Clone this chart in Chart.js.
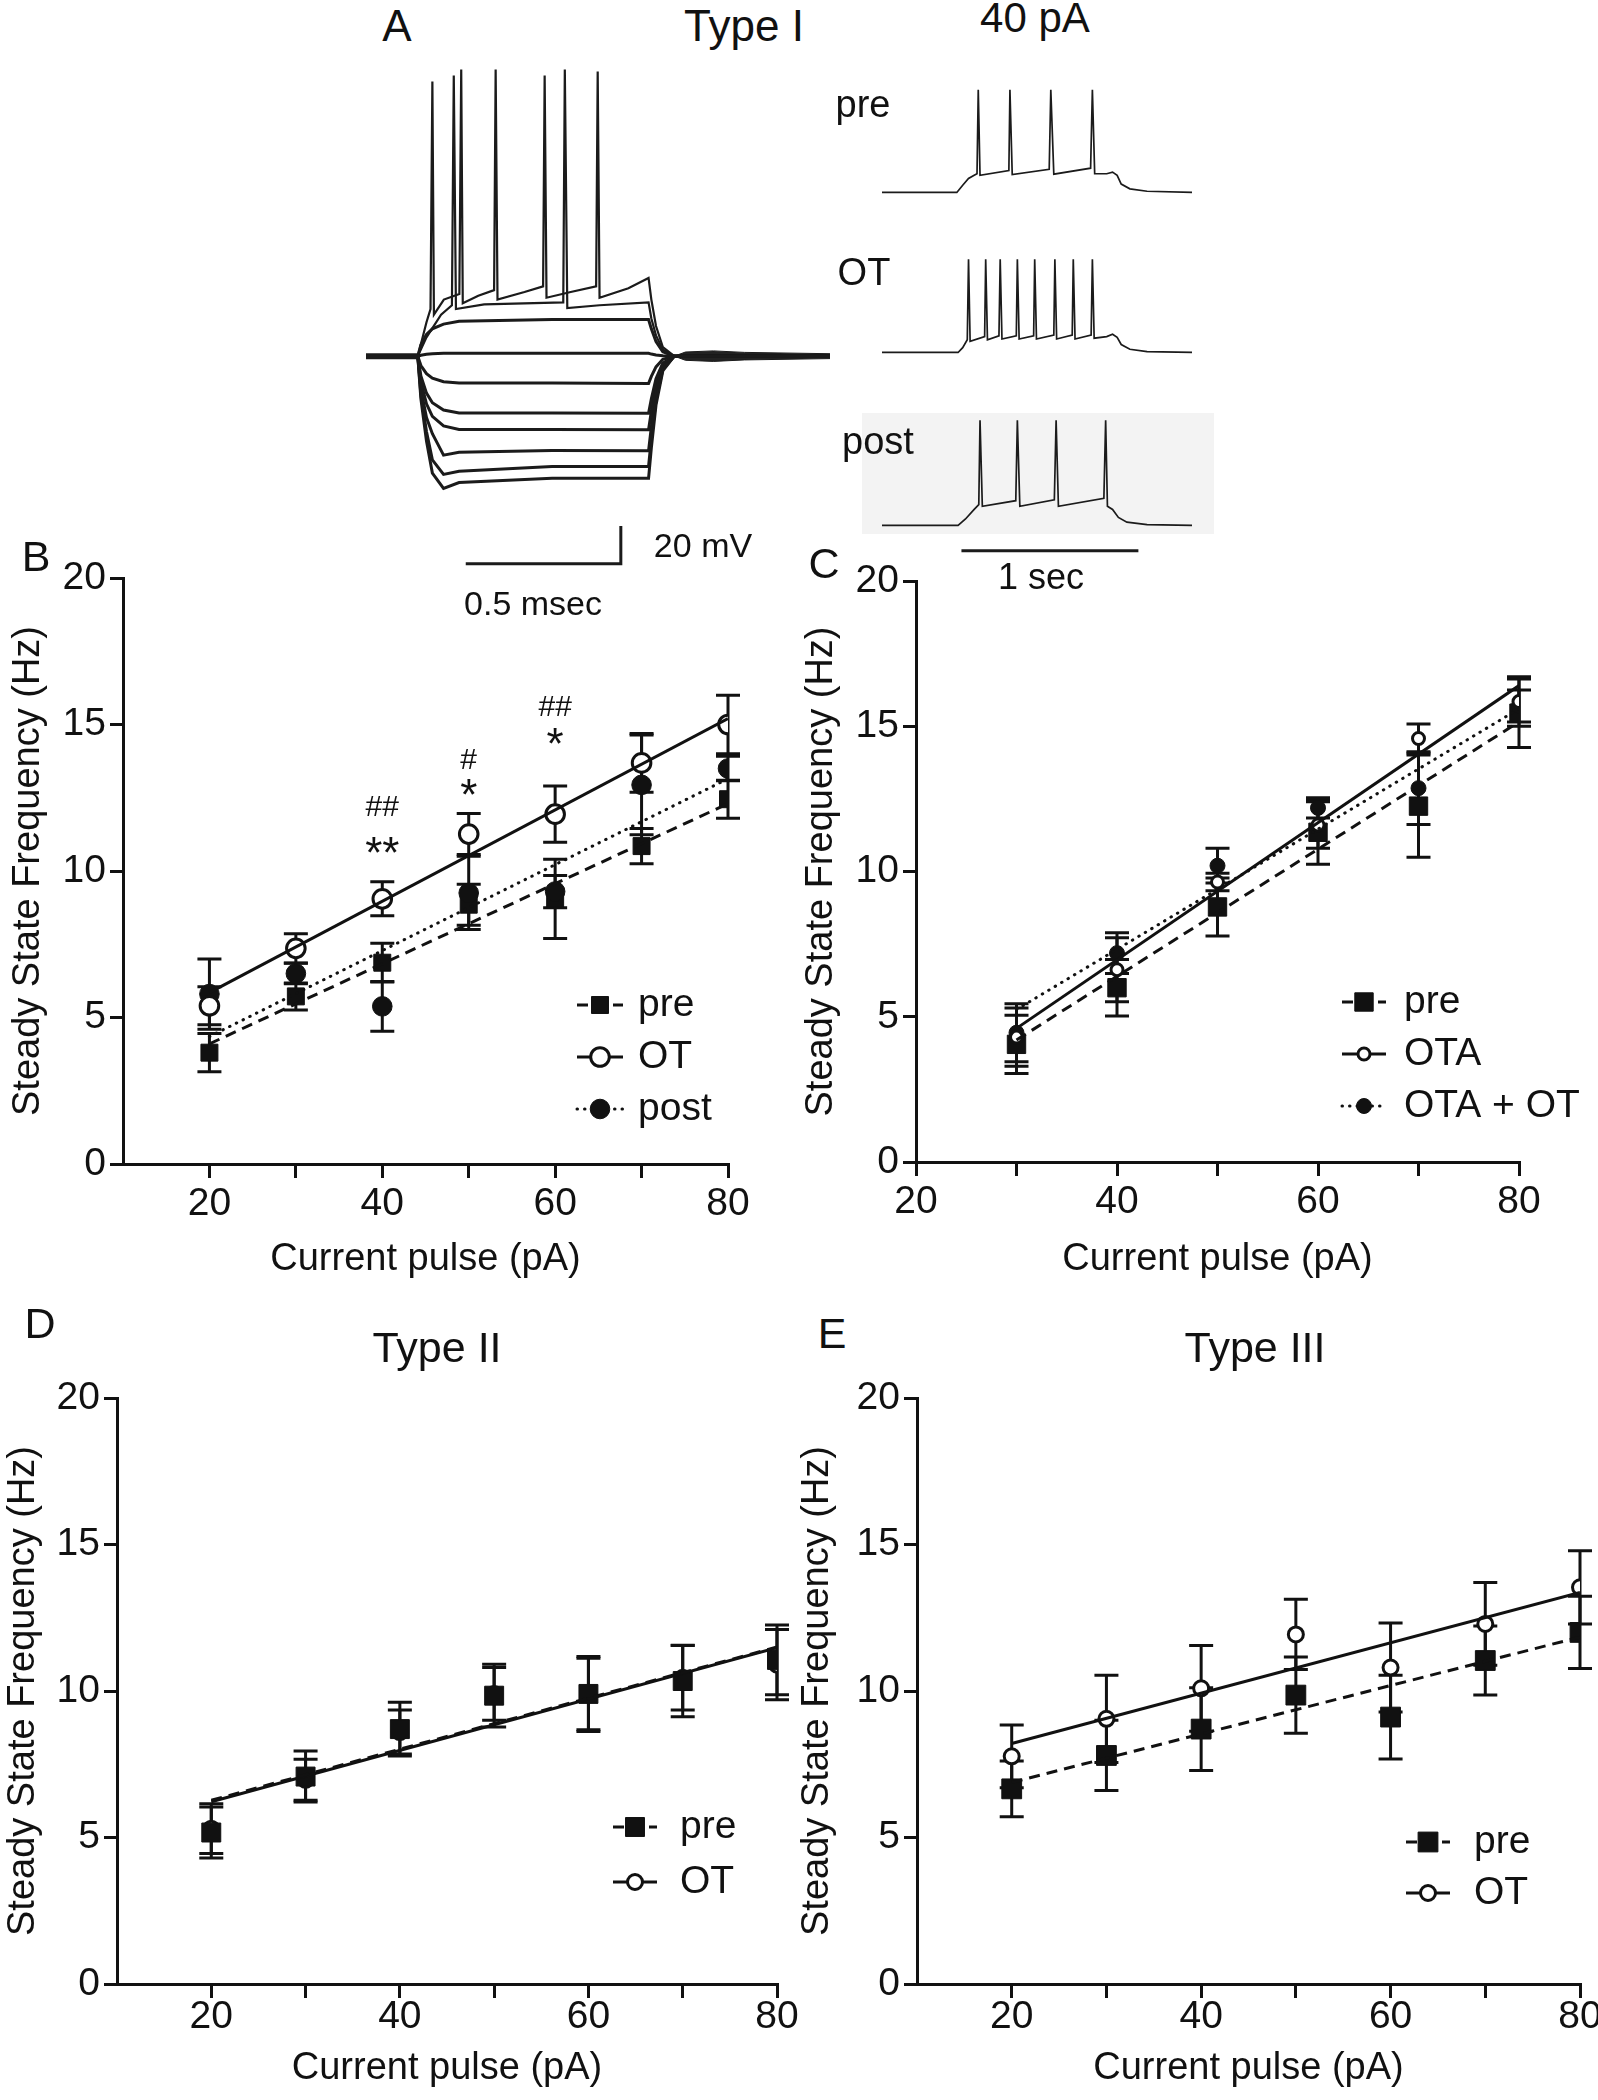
<!DOCTYPE html>
<html>
<head>
<meta charset="utf-8">
<title>Steady state frequency vs current pulse</title>
<script src="https://cdn.jsdelivr.net/npm/chart.js@4.4.0/dist/chart.umd.min.js"></script>
<style>
  html, body { margin: 0; padding: 0; background: #fff; overflow: hidden; }
  body { position: relative; width: 1598px; height: 2100px; font-family: "Liberation Sans", Arial, sans-serif; color: #111; }
  canvas { position: absolute; }
  .txt { position: absolute; transform: translate(-50%, -50%); line-height: 1; white-space: nowrap; }
  .shade { position: absolute; background: #f3f3f3; }
</style>
</head>
<body>
<div class="shade" style="left:862px;top:413px;width:352px;height:121px"></div>

<canvas id="family"></canvas>
<canvas id="tracePre"></canvas>
<canvas id="traceOt"></canvas>
<canvas id="tracePost"></canvas>
<canvas id="panelD"></canvas>
<canvas id="panelE"></canvas>
<canvas id="panelB"></canvas>
<canvas id="panelC"></canvas>

<div class="txt" style="left:397px;top:26px;font-size:44px">A</div>
<div class="txt" style="left:744px;top:26px;font-size:44px">Type I</div>
<div class="txt" style="left:1035px;top:18px;font-size:42px">40 pA</div>
<div class="txt" style="left:863px;top:104px;font-size:38px">pre</div>
<div class="txt" style="left:864px;top:272px;font-size:38px">OT</div>
<div class="txt" style="left:878px;top:441px;font-size:38px">post</div>
<div class="txt" style="left:703px;top:545px;font-size:34px">20 mV</div>
<div class="txt" style="left:533px;top:603px;font-size:34px">0.5 msec</div>
<div class="txt" style="left:1041px;top:577px;font-size:36px">1 sec</div>
<div class="txt" style="left:36px;top:556px;font-size:43px">B</div>
<div class="txt" style="left:824px;top:563px;font-size:43px">C</div>
<div class="txt" style="left:40px;top:1323px;font-size:43px">D</div>
<div class="txt" style="left:437px;top:1347px;font-size:43px">Type II</div>
<div class="txt" style="left:832px;top:1333px;font-size:43px">E</div>
<div class="txt" style="left:1255px;top:1347px;font-size:43px">Type III</div>

<script>
// ---------- shared ticks ----------
const freqTicks = [0, 5, 10, 15, 20];
const pulseTicksWide = [20, 30, 40, 50, 60, 70, 80];

// ---------- B: Type I, pre / OT / post ----------
const currentB = [20, 30, 40, 50, 60, 70, 80];
const preB = [3.8, 5.72, 6.87, 8.85, 9.05, 10.85, 12.45];
const preB_err = [0.65, 0.46, 0.66, 0.7, 1.35, 0.6, 0.65];
const otB = [5.4, 7.36, 9.05, 11.26, 11.94, 13.69, 15.0];
const otB_err = [0.65, 0.5, 0.58, 0.7, 0.96, 1.0, 1.0];
const postB = [5.8, 6.5, 5.38, 9.25, 9.3, 12.94, 13.5];
const postB_err = [1.2, 0.35, 0.85, 1.25, 0.55, 1.7, 0.42];
const fitSpanB = [20, 80];
const fitPreB = [4.1, 12.3];
const fitOtB = [5.85, 15.2];
const fitPostB = [4.35, 13.15];
const sigX = [40, 50, 60];
const sigStar = ['**', '*', '*'];
const sigStarY = [10.9, 12.85, 14.6];
const sigHash = ['##', '#', '##'];
const sigHashY = [12.22, 13.81, 15.62];

// ---------- C: pre / OTA / OTA + OT ----------
const currentC = [30, 40, 50, 60, 70, 80];
const preC = [4.05, 6.0, 8.78, 11.35, 12.25, 15.45];
const preC_err = [1.0, 0.97, 1.0, 1.1, 1.76, 1.18];
const otaC = [4.3, 6.62, 9.64, 11.6, 14.58, 15.85];
const otaC_err = [1.0, 1.1, 0.3, 0.8, 0.5, 0.85];
const otaOtC = [4.45, 7.19, 10.2, 12.19, 12.87, 15.7];
const otaOtC_err = [1.0, 0.7, 0.6, 0.35, 1.25, 0.55];
const fitSpanC = [30, 80];
const fitPreC = [4.2, 15.15];
const fitOtaC = [4.6, 16.4];
const fitOtaOtC = [5.25, 15.6];

// ---------- D: Type II ----------
const currentD = [20, 30, 40, 50, 60, 70, 80];
const preD = [5.17, 7.08, 8.7, 9.84, 9.9, 10.34, 11.06];
const preD_err = [0.87, 0.87, 0.92, 1.07, 1.28, 1.22, 1.19];
const otD = [5.3, 6.97, 8.6, 9.9, 9.9, 10.45, 10.9];
const otD_err = [0.85, 0.7, 0.75, 0.9, 1.22, 1.1, 1.2];
const fitSpanD = [20, 80];
const fitPreD = [6.27, 11.5];
const fitOtD = [6.22, 11.48];

// ---------- E: Type III ----------
const currentE = [20, 30, 40, 50, 60, 70, 80];
const preE = [6.66, 7.8, 8.7, 9.86, 9.11, 11.04, 12.0];
const preE_err = [0.95, 1.2, 1.41, 1.3, 1.43, 1.18, 1.23];
const otE = [7.77, 9.05, 10.09, 11.93, 10.8, 12.29, 13.54];
const otE_err = [1.07, 1.49, 1.46, 1.2, 1.52, 1.41, 1.25];
const fitSpanE = [20, 80];
const fitPreE = [6.88, 11.84];
const fitOtE = [8.21, 13.36];

// ---------- A: voltage traces (time in ms / s, voltage in mV from rest) ----------
const familyT = [0, 0.167, 0.177, 0.195, 0.214, 0.25, 0.30, 0.60, 0.911, 0.92, 0.935, 0.957, 0.994, 1.496];
const hyp1 = [0, 0, -5, -9.3, -11.7, -13.6, -14.3, -14.3, -14.5, -10.7, -5.7, -1.7, 0, 0];
const hyp2 = [0, 0, -10.5, -19.6, -24.7, -28.6, -30.1, -30.1, -30.3, -22.6, -12, -3.6, 0, 0];
const hyp3 = [0, 0, -13.6, -25.3, -31.9, -37, -38.9, -38.9, -39, -29.2, -15.6, -4.7, 0, 0];
const hyp4 = [0, 0, -17.5, -32.6, -41.1, -52.5, -51, -50.1, -50.2, -37.6, -20, -6, 0, 0];
const hyp5 = [0, 0, -20.5, -40, -55, -62.7, -61, -58.5, -58.5, -43.9, -23.4, -7, 0, 0];
const hyp6 = [0, 0, -22.7, -45, -62, -70.1, -67, -64.8, -64.8, -48.6, -25.9, -7.8, 0, 0];
const dep0 = [0, 0, 0.5, 1, 1.3, 1.5, 1.5, 1.5, 1.5, 1.1, 0.6, 0.2, 0, 0];
const dep1 = [0, 0, 6, 11.5, 14.5, 17, 18.5, 19.4, 19.4, 14.5, 7.8, 2.3, 0, 0];
const spikeLowT = [0, 0.167, 0.195, 0.242, 0.277, 0.283, 0.290, 0.381, 0.636, 0.641, 0.649, 0.753, 0.911, 0.920, 0.935, 0.957, 0.994, 1.496];
const spikeLowV = [0, 0, 10, 22, 27, 148.8, 25, 27.5, 28.5, 152, 25.5, 27, 28.5, 20, 11, 3.4, 0, 0];
const spikeHighT = [0, 0.167, 0.195, 0.208, 0.214, 0.219, 0.251, 0.301, 0.307, 0.312, 0.362, 0.413, 0.418, 0.424, 0.511, 0.571, 0.576, 0.582, 0.660, 0.742, 0.747, 0.753, 0.846, 0.911, 0.920, 0.935, 0.957, 0.994, 1.496];
const spikeHighV = [0, 0, 18, 25, 145.7, 22, 30, 33, 152, 28, 32, 35, 152, 30, 34, 37, 148.8, 31, 34, 37, 151, 31, 36, 41.5, 30, 16, 4.8, 0, 0];
const restT = [0, 0.167];
const restV = [0, 0];
const tailT = [0.994, 1.03, 1.12, 1.22, 1.496];
const tailUp = [0, 2.2, 2.8, 2.0, 1.3];
const tailLo = [0, -2.2, -2.8, -2.0, -1.3];
const barMsT = [0.3216, 0.8216, 0.8216];   // 0.5 msec
const barMsV = [-110.1, -110.1, -90.1];    // 20 mV

const preTraceT = [0, 0.423, 0.456, 0.489, 0.521, 0.537, 0.544, 0.554, 0.717, 0.723, 0.736, 0.945, 0.954, 0.971, 1.179, 1.189, 1.202, 1.270, 1.303, 1.329, 1.352, 1.401, 1.498, 1.752];
const preTraceV = [0, 0, 4.5, 8.75, 10.75, 11.75, 64.5, 10.75, 13.75, 64.5, 11.25, 14.5, 64.5, 11.5, 15.25, 64.5, 11.75, 11.75, 12.75, 10.75, 5.25, 2.25, 0.75, 0];
const otTraceT = [0, 0.430, 0.456, 0.482, 0.489, 0.498, 0.580, 0.586, 0.596, 0.661, 0.668, 0.678, 0.759, 0.765, 0.775, 0.857, 0.863, 0.873, 0.971, 0.977, 0.987, 1.075, 1.081, 1.091, 1.182, 1.189, 1.199, 1.270, 1.303, 1.329, 1.352, 1.401, 1.498, 1.752];
const otTraceV = [0, 0, 3, 8, 58.75, 7, 10, 58.75, 8, 10.5, 58.75, 8.5, 10.5, 58.75, 8.5, 10.5, 58.75, 8.5, 11, 58.75, 8.5, 11, 58.75, 8.5, 11, 58.75, 9, 10, 11.5, 9.5, 5, 2, 0.5, 0];
const postTraceT = [0, 0.430, 0.472, 0.521, 0.547, 0.554, 0.567, 0.756, 0.765, 0.779, 0.974, 0.984, 0.997, 1.254, 1.264, 1.274, 1.303, 1.336, 1.384, 1.498, 1.752];
const postTraceV = [0, 0, 4, 10, 13, 66, 12, 15.5, 66, 12, 16, 66, 12, 17, 66, 12, 10, 5, 2, 0.5, 0];
const barSecT = [0.449, 1.449];            // 1 sec
const barSecV = [-15.9, -15.9];

// ---------- drawing helpers ----------
const INK = '#111';
const FONT = '"Liberation Sans", Arial, Helvetica, sans-serif';
const DASHES = { solid: [], dashed: [11, 7], dotted: [0.5, 7] };

function pairs(xs, ys) {
  return xs.map((x, i) => ({ x: x, y: ys[i] }));
}

function markerProps(kind, r) {
  if (kind === 'square') return { pointStyle: 'rect', pointRadius: r, pointBackgroundColor: INK, pointBorderColor: INK, pointBorderWidth: 1 };
  if (kind === 'open') return { pointStyle: 'circle', pointRadius: r, pointBackgroundColor: '#fff', pointBorderColor: INK, pointBorderWidth: 3 };
  return { pointStyle: 'circle', pointRadius: r, pointBackgroundColor: INK, pointBorderColor: INK, pointBorderWidth: 1 };
}

function drawMarker(ctx, kind, r, x, y) {
  ctx.save();
  ctx.fillStyle = kind === 'open' ? '#fff' : INK;
  ctx.strokeStyle = INK;
  ctx.lineWidth = kind === 'open' ? 3 : 1;
  ctx.setLineDash([]);
  ctx.beginPath();
  if (kind === 'square') {
    const s = Math.SQRT1_2 * r;
    ctx.rect(x - s, y - s, 2 * s, 2 * s);
  } else {
    ctx.arc(x, y, r, 0, Math.PI * 2);
  }
  ctx.fill();
  ctx.stroke();
  ctx.restore();
}

function errorBarPlugin(series) {
  return {
    id: 'errorBars',
    beforeDatasetsDraw(chart) {
      const ctx = chart.ctx, xs = chart.scales.x, ys = chart.scales.y;
      ctx.save();
      ctx.strokeStyle = INK;
      ctx.lineWidth = 3;
      series.forEach(s => {
        s.x.forEach((xv, i) => {
          const px = xs.getPixelForValue(xv);
          const top = ys.getPixelForValue(s.y[i] + s.err[i]);
          const bot = ys.getPixelForValue(s.y[i] - s.err[i]);
          ctx.beginPath();
          ctx.moveTo(px, top); ctx.lineTo(px, bot);
          ctx.moveTo(px - s.cap, top); ctx.lineTo(px + s.cap, top);
          ctx.moveTo(px - s.cap, bot); ctx.lineTo(px + s.cap, bot);
          ctx.stroke();
        });
      });
      ctx.restore();
    }
  };
}

function keyPlugin(series, key) {
  return {
    id: 'seriesKey',
    afterDatasetsDraw(chart) {
      const ctx = chart.ctx;
      series.forEach((s, k) => {
        const y = key.y + k * key.dy;
        ctx.save();
        ctx.strokeStyle = INK;
        ctx.lineWidth = 3;
        ctx.lineCap = s.dash === 'dotted' ? 'round' : 'butt';
        ctx.setLineDash(DASHES[s.dash]);
        ctx.beginPath();
        ctx.moveTo(key.x, y);
        ctx.lineTo(key.x + key.len, y);
        ctx.stroke();
        ctx.restore();
        drawMarker(ctx, s.marker, s.r, key.x + key.len / 2, y);
        ctx.save();
        ctx.fillStyle = INK;
        ctx.font = '39px ' + FONT;
        ctx.textBaseline = 'middle';
        ctx.textAlign = 'left';
        ctx.fillText(s.label, key.x + key.len + key.gap, y);
        ctx.restore();
      });
    }
  };
}

const sigPlugin = {
  id: 'sigMarks',
  afterDatasetsDraw(chart) {
    const ctx = chart.ctx, xs = chart.scales.x, ys = chart.scales.y;
    const rows = [{ t: sigStar, y: sigStarY, size: 44 }, { t: sigHash, y: sigHashY, size: 30 }];
    ctx.save();
    ctx.fillStyle = INK;
    ctx.textAlign = 'center';
    ctx.textBaseline = 'alphabetic';
    rows.forEach(row => {
      ctx.font = row.size + 'px ' + FONT;
      sigX.forEach((xv, i) => {
        const m = ctx.measureText(row.t[i]);
        const off = (m.actualBoundingBoxAscent - m.actualBoundingBoxDescent) / 2;
        ctx.fillText(row.t[i], xs.getPixelForValue(xv), ys.getPixelForValue(row.y[i]) + off);
      });
    });
    ctx.restore();
  }
};

function buildPanel(id, geo, series, key, extra) {
  const cv = document.getElementById(id);
  cv.width = geo.w;
  cv.height = geo.h;
  cv.style.left = geo.left + 'px';
  cv.style.top = geo.top + 'px';

  const datasets = [];
  series.forEach(s => {
    datasets.push(Object.assign({ data: pairs(s.x, s.y), showLine: false, order: s.layer }, markerProps(s.marker, s.r)));
  });
  series.forEach(s => {
    datasets.push({
      data: pairs(s.fitX, s.fit), showLine: true, order: 0,
      borderColor: INK, borderWidth: 3, borderDash: DASHES[s.dash],
      borderCapStyle: s.dash === 'dotted' ? 'round' : 'butt', pointRadius: 0
    });
  });

  const tickFont = { family: FONT, size: 39, lineHeight: 1 };
  const titleFont = { family: FONT, size: 38, lineHeight: 1.2 };

  return new Chart(cv, {
    type: 'scatter',
    data: { datasets: datasets },
    options: {
      responsive: false,
      animation: false,
      events: [],
      layout: { padding: { left: 0, top: geo.padTop, right: geo.padRight, bottom: 0 } },
      plugins: { legend: { display: false }, tooltip: { enabled: false } },
      scales: {
        x: {
          type: 'linear', min: geo.xMin, max: 80,
          afterBuildTicks: sc => { sc.ticks = pulseTicksWide.map(v => ({ value: v })); },
          afterFit: sc => { sc.height = geo.xH; },
          ticks: { autoSkip: false, maxRotation: 0, padding: geo.xTickPad, color: INK, font: tickFont,
                   callback: v => (v % 20 === 0 ? String(v) : '') },
          grid: { drawOnChartArea: false, drawTicks: true, tickLength: 14, lineWidth: 3, color: INK },
          border: { display: true, width: 3, color: INK },
          title: { display: true, text: 'Current pulse (pA)', color: INK, font: titleFont,
                   padding: { top: 0, bottom: geo.xTitlePad } }
        },
        y: {
          type: 'linear', min: 0, max: 20,
          afterBuildTicks: sc => { sc.ticks = freqTicks.map(v => ({ value: v })); },
          afterFit: sc => { sc.width = geo.yW; },
          ticks: { padding: 4, color: INK, font: tickFont },
          grid: { drawOnChartArea: false, drawTicks: true, tickLength: 13, lineWidth: 3, color: INK },
          border: { display: true, width: 3, color: INK },
          title: { display: true, text: 'Steady State Frequency (Hz)', color: INK, font: titleFont,
                   padding: { top: geo.yTitlePad, bottom: 0 } }
        }
      }
    },
    plugins: [errorBarPlugin(series), keyPlugin(series, key)].concat(extra || [])
  });
}

function traceSet(t, v, width) {
  return { data: pairs(t, v), showLine: true, borderColor: '#1b1b1b', borderWidth: width,
           pointRadius: 0, clip: false, tension: 0, fill: false };
}

function traceChart(id, area, xr, yr, sets) {
  const pad = 8;
  const cv = document.getElementById(id);
  cv.width = Math.round(area.w + 2 * pad);
  cv.height = Math.round(area.h + 2 * pad);
  cv.style.left = (area.x - pad) + 'px';
  cv.style.top = (area.y - pad) + 'px';
  return new Chart(cv, {
    type: 'scatter',
    data: { datasets: sets },
    options: {
      responsive: false, animation: false, events: [],
      layout: { padding: pad },
      plugins: { legend: { display: false }, tooltip: { enabled: false } },
      scales: {
        x: { type: 'linear', display: false, min: xr[0], max: xr[1] },
        y: { type: 'linear', display: false, min: yr[0], max: yr[1] }
      }
    }
  });
}

// ---------- panel A ----------
const tailLower = traceSet(tailT, tailLo, 1);
tailLower.fill = '-1';
tailLower.backgroundColor = '#222';
traceChart('family', { x: 366, y: 61.9, w: 464.4, h: 511.1 }, [0, 1.496], [-115, 156], [
  traceSet(restT, restV, 6),
  traceSet(familyT, hyp1, 3), traceSet(familyT, hyp2, 3), traceSet(familyT, hyp3, 3),
  traceSet(familyT, hyp4, 3), traceSet(familyT, hyp5, 3), traceSet(familyT, hyp6, 3),
  traceSet(familyT, dep0, 3), traceSet(familyT, dep1, 3),
  traceSet(spikeLowT, spikeLowV, 2.2), traceSet(spikeHighT, spikeHighV, 2.2),
  traceSet(tailT, tailUp, 1), tailLower,
  traceSet(barMsT, barMsV, 3)
]);
traceChart('tracePre', { x: 882.4, y: 80.6, w: 310.3, h: 120.7 }, [0, 1.752], [-6, 70], [
  traceSet(preTraceT, preTraceV, 1.7)
]);
traceChart('traceOt', { x: 882.4, y: 253.6, w: 310.3, h: 108 }, [0, 1.752], [-6, 62], [
  traceSet(otTraceT, otTraceV, 1.7)
]);
traceChart('tracePost', { x: 882.4, y: 413.6, w: 310.3, h: 139.8 }, [0, 1.752], [-18, 70], [
  traceSet(postTraceT, postTraceV, 1.7),
  traceSet(barSecT, barSecV, 3)
]);

// ---------- panels B-E ----------
buildPanel('panelB',
  { left: 0, top: 540, w: 775, h: 760, yW: 123, padTop: 38, padRight: 47, xH: 136, xMin: 10,
    xTickPad: 7, xTitlePad: 18, yTitlePad: 6 },
  [
    { label: 'pre', x: currentB, y: preB, err: preB_err, marker: 'square', r: 12, cap: 12, dash: 'dashed', fitX: fitSpanB, fit: fitPreB, layer: 3 },
    { label: 'OT', x: currentB, y: otB, err: otB_err, marker: 'open', r: 9.3, cap: 12, dash: 'solid', fitX: fitSpanB, fit: fitOtB, layer: 1 },
    { label: 'post', x: currentB, y: postB, err: postB_err, marker: 'filled', r: 9.8, cap: 12, dash: 'dotted', fitX: fitSpanB, fit: fitPostB, layer: 2 }
  ],
  { x: 577, y: 465, dy: 52, len: 46, gap: 15 },
  [sigPlugin]);

buildPanel('panelC',
  { left: 790, top: 540, w: 808, h: 760, yW: 126, padTop: 41, padRight: 79, xH: 138, xMin: 20,
    xTickPad: 7, xTitlePad: 18, yTitlePad: 9 },
  [
    { label: 'pre', x: currentC, y: preC, err: preC_err, marker: 'square', r: 13, cap: 12, dash: 'dashed', fitX: fitSpanC, fit: fitPreC, layer: 3 },
    { label: 'OTA', x: currentC, y: otaC, err: otaC_err, marker: 'open', r: 6, cap: 12, dash: 'solid', fitX: fitSpanC, fit: fitOtaC, layer: 1 },
    { label: 'OTA + OT', x: currentC, y: otaOtC, err: otaOtC_err, marker: 'filled', r: 7.5, cap: 12, dash: 'dotted', fitX: fitSpanC, fit: fitOtaOtC, layer: 2 }
  ],
  { x: 552, y: 462, dy: 52, len: 44, gap: 18 });

buildPanel('panelD',
  { left: 0, top: 1360, w: 820, h: 740, yW: 117, padTop: 38, padRight: 43, xH: 116, xMin: 10,
    xTickPad: 0, xTitlePad: 9, yTitlePad: 1 },
  [
    { label: 'pre', x: currentD, y: preD, err: preD_err, marker: 'square', r: 13.4, cap: 12, dash: 'dashed', fitX: fitSpanD, fit: fitPreD, layer: 1 },
    { label: 'OT', x: currentD, y: otD, err: otD_err, marker: 'open', r: 7.5, cap: 12, dash: 'solid', fitX: fitSpanD, fit: fitOtD, layer: 2 }
  ],
  { x: 613, y: 467, dy: 55, len: 44, gap: 23 });

buildPanel('panelE',
  { left: 790, top: 1360, w: 830, h: 740, yW: 127, padTop: 38, padRight: 40, xH: 116, xMin: 10,
    xTickPad: 0, xTitlePad: 9, yTitlePad: 5 },
  [
    { label: 'pre', x: currentE, y: preE, err: preE_err, marker: 'square', r: 14, cap: 12, dash: 'dashed', fitX: fitSpanE, fit: fitPreE, layer: 2 },
    { label: 'OT', x: currentE, y: otE, err: otE_err, marker: 'open', r: 7.5, cap: 12, dash: 'solid', fitX: fitSpanE, fit: fitOtE, layer: 1 }
  ],
  { x: 616, y: 482, dy: 51, len: 44, gap: 24 });
</script>
</body>
</html>
